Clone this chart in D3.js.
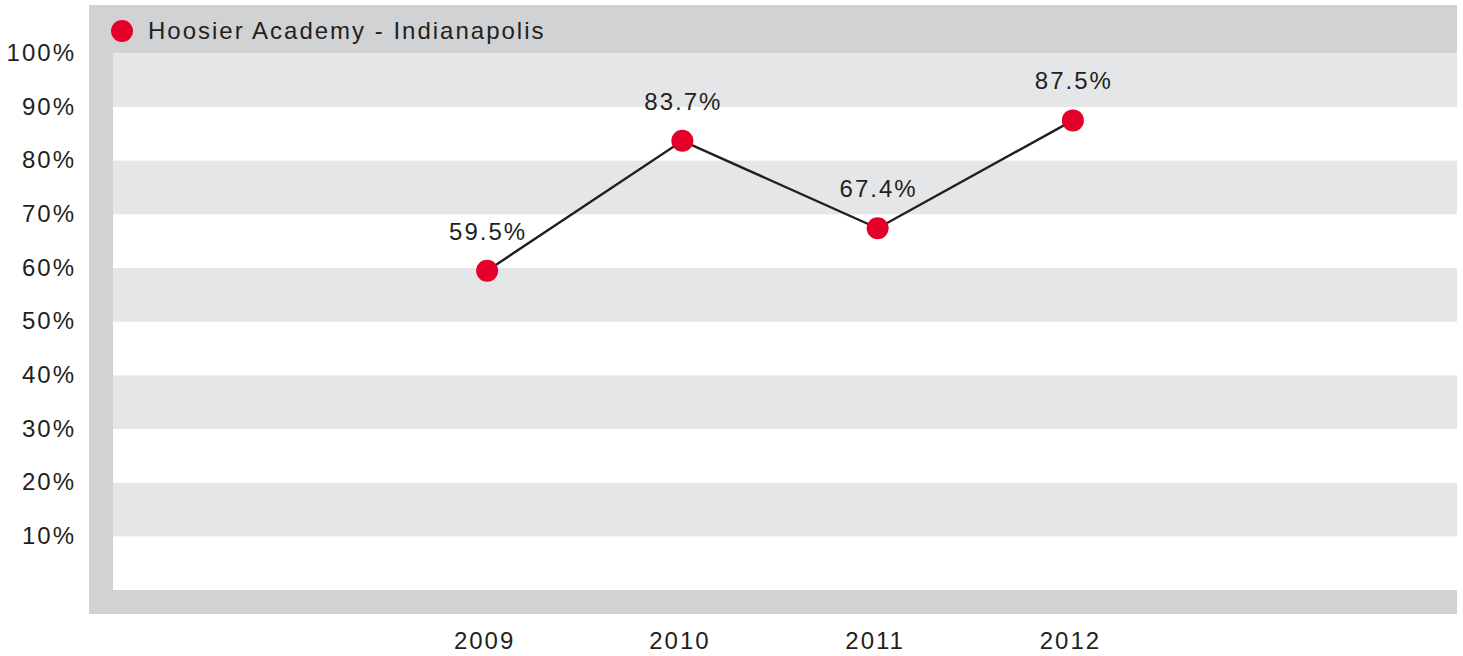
<!DOCTYPE html>
<html>
<head>
<meta charset="utf-8">
<script src="https://cdn.jsdelivr.net/npm/d3@7"></script>
<style>
  body { margin: 0; background: #fff; }
  svg text { font-family: "Liberation Sans", Arial, sans-serif; fill: #231f20; }
</style>
</head>
<body>
<div id="chart"></div>
<script>
/* DATA */
const seriesName = "Hoosier Academy - Indianapolis";
const years = ["2009", "2010", "2011", "2012"];
const values = [59.5, 83.7, 67.4, 87.5];
const yTicks = [10, 20, 30, 40, 50, 60, 70, 80, 90, 100];

/* LAYOUT */
const width = 1463,
  height = 656,
  frame = { left: 89, top: 5, right: 1457, bottom: 614 },
  plot = { left: 113, top: 53.3, right: 1457, bottom: 590 },
  fontSize = 24,
  spacing = "2px";

const red = "#e4002b",
  frameGray = "#d1d2d4",
  bandGray = "#e5e6e8";

const svg = d3.select("#chart")
  .append("svg")
  .attr("width", width)
  .attr("height", height);

// scales
const yScale = d3.scaleLinear()
  .domain([0, 100])
  .range([plot.bottom, plot.top]);

const xScale = d3.scalePoint()
  .domain(years)
  .range([plot.left, 1447])
  .padding(1.916);

// outer gray frame
svg.append("rect")
  .attr("x", frame.left)
  .attr("y", frame.top)
  .attr("width", frame.right - frame.left)
  .attr("height", frame.bottom - frame.top)
  .attr("fill", frameGray);

// white plot area
svg.append("rect")
  .attr("x", plot.left)
  .attr("y", plot.top)
  .attr("width", plot.right - plot.left)
  .attr("height", plot.bottom - plot.top)
  .attr("fill", "#fff");

// alternating bands, gray on every other 10% step starting at the top
svg.append("g")
  .selectAll("rect")
  .data(yTicks.filter((d, i) => i % 2 === 1))
  .join("rect")
  .attr("x", plot.left)
  .attr("width", plot.right - plot.left)
  .attr("y", d => yScale(d))
  .attr("height", d => yScale(d - 10) - yScale(d))
  .attr("fill", bandGray);

// legend in header
const legend = svg.append("g");
legend.append("circle")
  .attr("cx", 122)
  .attr("cy", 31)
  .attr("r", 11)
  .attr("fill", red);
legend.append("text")
  .attr("x", 148)
  .attr("y", 39)
  .attr("font-size", fontSize)
  .attr("letter-spacing", spacing)
  .text(seriesName);

// y axis
const yAxis = d3.axisLeft(yScale)
  .tickValues(yTicks)
  .tickSize(0)
  .tickFormat(d => d + "%");

svg.append("g")
  .attr("transform", "translate(76,0)")
  .call(yAxis)
  .call(g => g.select(".domain").remove())
  .selectAll("text")
  .attr("font-size", fontSize)
  .attr("letter-spacing", spacing)
  .attr("dy", "0.3em")
  .attr("x", 0)
  .attr("fill", "#231f20");

// x axis (labels sit a little left of the points, as in the original)
const xAxis = d3.axisBottom(xScale).tickSize(0);

svg.append("g")
  .attr("transform", "translate(-3,649)")
  .call(xAxis)
  .call(g => g.select(".domain").remove())
  .selectAll("text")
  .attr("font-size", fontSize)
  .attr("letter-spacing", spacing)
  .attr("y", 0)
  .attr("dy", 0)
  .attr("fill", "#231f20");

// line
const points = years.map((y, i) => ({ year: y, value: values[i] }));

svg.append("path")
  .datum(points)
  .attr("fill", "none")
  .attr("stroke", "#231f20")
  .attr("stroke-width", 2.4)
  .attr("d", d3.line().x(d => xScale(d.year)).y(d => yScale(d.value)));

// dots
svg.append("g")
  .selectAll("circle")
  .data(points)
  .join("circle")
  .attr("cx", d => xScale(d.year))
  .attr("cy", d => yScale(d.value))
  .attr("r", 11)
  .attr("fill", red);

// value labels
svg.append("g")
  .selectAll("text")
  .data(points)
  .join("text")
  .attr("x", d => xScale(d.year) + 1)
  .attr("y", d => yScale(d.value) - 31)
  .attr("text-anchor", "middle")
  .attr("font-size", fontSize)
  .attr("letter-spacing", spacing)
  .text(d => d.value.toFixed(1) + "%");
</script>
</body>
</html>
